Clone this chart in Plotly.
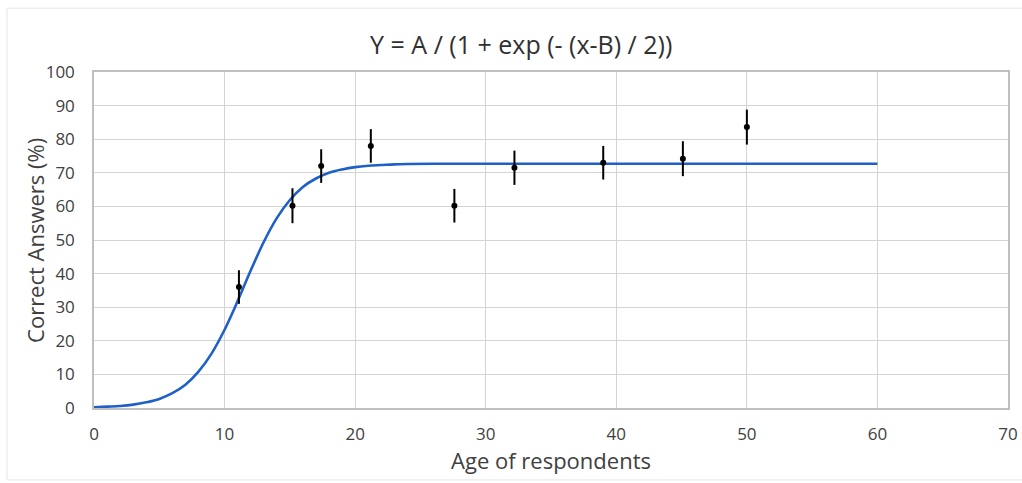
import plotly.graph_objects as go

# Observed data points (age, % correct, error)
ages = [11.1, 15.2, 17.4, 21.2, 27.6, 32.2, 39.0, 45.1, 50.0]
correct = [36.0, 60.2, 72.0, 78.0, 60.2, 71.5, 73.0, 74.2, 83.6]
errors = [5.0, 5.2, 5.0, 5.0, 5.0, 5.1, 5.0, 5.2, 5.2]

# Fitted curve
curve_x = [0, 1, 2, 3, 4, 5, 6, 7, 8, 9, 10, 11, 12, 13, 14, 15, 16, 17, 18,
           19, 20, 21, 22, 23, 24, 26, 30, 40, 50, 60]
curve_y = [0.2, 0.4, 0.6, 1.0, 1.7, 2.7, 4.4, 6.9, 10.8, 16.2, 23.3, 31.8,
           40.9, 49.4, 56.5, 61.9, 65.8, 68.3, 70.0, 71.0, 71.7, 72.1, 72.3,
           72.5, 72.6, 72.7, 72.7, 72.7, 72.7, 72.7]

x_ticks = [0, 10, 20, 30, 40, 50, 60, 70]
y_ticks = [0, 10, 20, 30, 40, 50, 60, 70, 80, 90, 100]

title_text = "Y = A / (1 + exp (- (x-B) / 2))"
y_title = "Correct Answers (%)"

fig = go.Figure()
fig.add_trace(go.Scatter(
    x=curve_x, y=curve_y, mode="lines", line=dict(color="#1f5fc8", width=2.6, shape="spline"),
    hoverinfo="skip", showlegend=False))
fig.add_trace(go.Scatter(
    x=ages, y=correct, mode="markers",
    marker=dict(color="black", size=6),
    error_y=dict(type="data", array=errors, color="black", thickness=2, width=0),
    showlegend=False))

font_family = "Open Sans, Noto Sans, sans-serif"
fig.update_layout(
    width=1022, height=483,
    margin=dict(l=94, r=14, t=72, b=75, autoexpand=False),
    paper_bgcolor="white", plot_bgcolor="white",
    title=dict(text=title_text, x=0.51, xanchor="center", y=0.907, yanchor="middle",
               font=dict(family=font_family, size=25, color="#303030")),
    font=dict(family=font_family, color="#404040"),
    shapes=[dict(type="rect", xref="paper", yref="paper",
                 x0=-0.0952, x1=1.1, y0=-0.214, y1=1.19,
                 line=dict(color="#e6e6e6", width=1), layer="below")],
    annotations=[dict(text=y_title, xref="paper", yref="paper", x=-0.0646, y=0.5,
                      xanchor="center", yanchor="middle", textangle=-90, showarrow=False,
                      font=dict(family=font_family, size=22, color="#404040"))],
)
fig.update_xaxes(
    range=[0, 70], tickvals=x_ticks, showgrid=True, gridcolor="#d4d4d4", gridwidth=1,
    zeroline=False, showline=True, linecolor="#bfbfbf", linewidth=1.5, mirror=True,
    ticks="", tickfont=dict(size=17, color="#404040"), ticklabelstandoff=10,
    title=dict(text="Age of respondents", font=dict(size=22, color="#404040"), standoff=8))
fig.update_yaxes(
    range=[0, 100], tickvals=y_ticks, showgrid=True, gridcolor="#d4d4d4", gridwidth=1,
    zeroline=False, showline=True, linecolor="#bfbfbf", linewidth=1.5, mirror=True,
    ticks="", tickfont=dict(size=17, color="#404040"), ticklabelstandoff=14)

fig.write_html("out.html", config={"displayModeBar": False},
               post_script="document.body.style.margin='0';")
